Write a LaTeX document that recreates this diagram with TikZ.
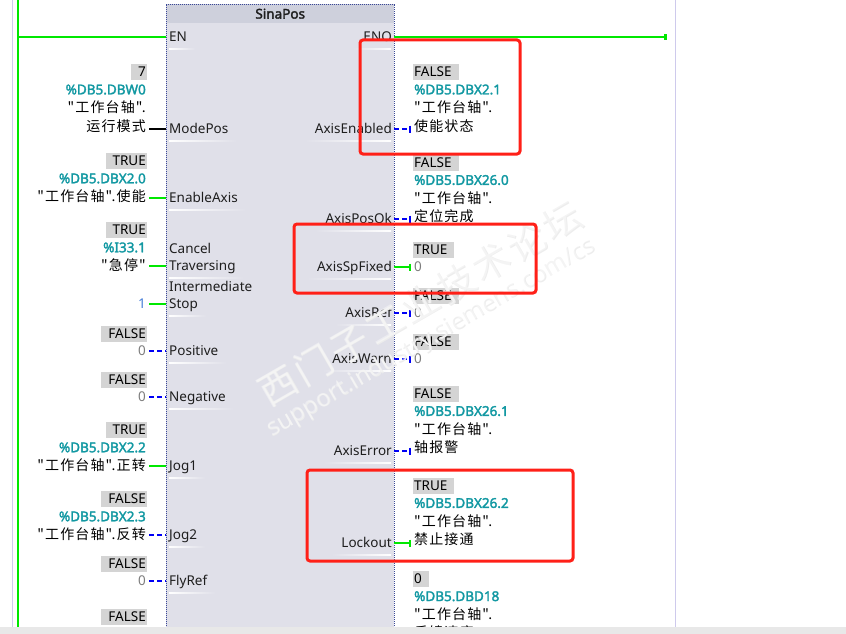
\documentclass[tikz,border=0pt]{standalone}
\usepackage{fontspec}
\setmainfont{Noto Sans}
\newfontfamily\heavy{Noto Sans}[FakeBold=2.2]
\newfontfamily\cjk{Noto Sans CJK SC}[LetterSpace=8]
\usetikzlibrary{arrows.meta,positioning}

\definecolor{rail}{RGB}{0,232,0}
\definecolor{offblue}{RGB}{0,0,245}
\definecolor{addrteal}{RGB}{18,152,162}
\definecolor{valgray}{RGB}{212,212,212}
\definecolor{blockbody}{RGB}{224,224,233}
\definecolor{blocktitle}{RGB}{206,208,220}
\definecolor{blockedge}{RGB}{58,72,150}
\definecolor{guide}{RGB}{206,202,236}
\definecolor{markred}{RGB}{255,32,24}
\definecolor{zerogray}{RGB}{125,125,125}
\definecolor{constblue}{RGB}{70,125,215}
\definecolor{pintext}{RGB}{30,30,30}
\definecolor{footer}{RGB}{232,232,232}

\begin{document}
\fontsize{13.5}{16}\selectfont
\begin{tikzpicture}[x=1pt, y=-1pt,
    block/.style={fill=blockbody, inner sep=0pt, minimum width=228pt, minimum height=640pt},
    headbar/.style={fill=blocktitle, inner sep=0pt, minimum width=227pt, minimum height=19pt, text=pintext, font=\heavy},
    edgeline/.style={blockedge, line width=0.8pt, dash pattern=on 1pt off 1pt},
    pinL/.style={anchor=west, inner sep=0pt, text=pintext, text height=12.6pt, text depth=3pt},
    pinR/.style={anchor=east, inner sep=0pt, text=pintext, text height=12.6pt, text depth=3pt},
    fadeL/.style={draw=none, left color=white, right color=blockbody, to path={(\tikztostart) rectangle (\tikztotarget)}},
    fadeR/.style={draw=none, left color=blockbody, right color=white, to path={(\tikztostart) rectangle (\tikztotarget)}},
    ulL/.style={append after command={([yshift=-3.5pt]\tikzlastnode.south west) edge[fadeL] ([yshift=-4.8pt, xshift=8pt]\tikzlastnode.south east)}},
    ulR/.style={append after command={([yshift=-3.5pt, xshift=-10pt]\tikzlastnode.south west) edge[fadeR] ([yshift=-4.8pt, xshift=-1pt]\tikzlastnode.south east)}},
    txt/.style={inner xsep=1pt, inner ysep=1pt, text height=12.65pt, text depth=3.35pt},
    sym/.style={txt, font=\cjk\fontsize{14}{16}\selectfont},
    addr/.style={txt, text=addrteal, font=\heavy},
    zero/.style={txt, text=zerogray},
    const/.style={txt, text=constblue},
    valL/.style={fill=valgray, inner xsep=1pt, inner ysep=1pt, text height=11.65pt, text depth=2.35pt, execute at begin node=\hspace*{6pt}},
    valR/.style={fill=valgray, inner xsep=1pt, inner ysep=1pt, text height=11.65pt, text depth=2.35pt, execute at end node=\hspace*{6pt}},
    wire/.style={rail, line width=2.5pt},
    wireoff/.style={offblue, line width=2pt, dash pattern=on 5pt off 3pt},
    wireval/.style={black, line width=2.5pt},
    fromval/.style={shorten <=2pt},
    outtick/.style={-{Bar[width=7pt]}, shorten >=2pt},
    redframe/.style={markred, line width=3pt, rounded corners=3pt},
    wmark/.style={rotate=30, inner sep=0pt}
  ]
  \useasboundingbox (0,0) rectangle (846,634);

  % rails
  \coordinate (rail-top) at (18,0);
  \coordinate (rail-bot) at (18,627);
  \coordinate (eno-end) at (667,37);
  \draw[guide] (12,0) -- (12,627);
  \draw[guide] (675,0) -- (675,627);

  % the SinaPos box
  \node[block, anchor=north west] (blk) at (166,4) {};
  \node[headbar, anchor=north] (blk-head) at (blk.north) {SinaPos};
  \draw[edgeline] (blk.south west) rectangle (blk.north east);

  % input pins
  \node[pinL, ulL] (p-en) at (169,37) {EN};
  \node[pinL, ulL] (p-modepos) at (169,129) {ModePos};
  \node[pinL, ulL] (p-enable) at (169,198) {EnableAxis};
  \node[pinL] (p-cancel-1) at (169,249) {Cancel};
  \node[pinL, ulL] (p-cancel) at (169,266) {Traversing};
  \node[pinL] (p-stop-1) at (169,287) {Intermediate};
  \node[pinL, ulL] (p-stop) at (169,304) {Stop};
  \node[pinL, ulL] (p-pos) at (169,351) {Positive};
  \node[pinL, ulL] (p-neg) at (169,397) {Negative};
  \node[pinL, ulL] (p-jog1) at (169,466) {Jog1};
  \node[pinL, ulL] (p-jog2) at (169,535) {Jog2};
  \node[pinL, ulL] (p-flyref) at (169,581) {FlyRef};

  % output pins
  \node[pinR, ulR] (p-eno) at (392,37) {ENO};
  \node[pinR, ulR] (p-enabled) at (392,129) {AxisEnabled};
  \node[pinR, ulR] (p-posok) at (392,219) {AxisPosOk};
  \node[pinR, ulR] (p-spfixed) at (392,267) {AxisSpFixed};
  \node[pinR, ulR] (p-ref) at (392,313) {AxisRef};
  \node[pinR, ulR] (p-warn) at (392,359) {AxisWarn};
  \node[pinR, ulR] (p-error) at (392,451) {AxisError};
  \node[pinR, ulR] (p-lockout) at (392,543) {Lockout};

  % input operands
  \node[sym, anchor=east] (modepos-sym) at (147,126.5) {运行模式};
  \node[sym, above left=0pt and 0pt of modepos-sym.north east] (modepos-db) {"工作台轴".};
  \node[addr, above left=0pt and 0pt of modepos-db.north east] (modepos-addr) {\%DB5.DBW0};
  \node[valL, above left=0pt and 0pt of modepos-addr.north east] (modepos-val) {7};

  \node[sym, anchor=east] (enable-sym) at (147,197) {"工作台轴".使能};
  \node[addr, above left=0pt and 0pt of enable-sym.north east] (enable-addr) {\%DB5.DBX2.0};
  \node[valL, above left=0pt and 0pt of enable-addr.north east] (enable-val) {TRUE};

  \node[sym, anchor=east] (cancel-sym) at (147,266) {"急停"};
  \node[addr, above left=0pt and 0pt of cancel-sym.north east] (cancel-addr) {\%I33.1};
  \node[valL, above left=0pt and 0pt of cancel-addr.north east] (cancel-val) {TRUE};

  \node[const, anchor=east] (stop-sym) at (147,304) {1};

  \node[zero, anchor=east] (pos-sym) at (147,351) {0};
  \node[valL, above left=0pt and 0pt of pos-sym.north east] (pos-val) {FALSE};

  \node[zero, anchor=east] (neg-sym) at (147,397) {0};
  \node[valL, above left=0pt and 0pt of neg-sym.north east] (neg-val) {FALSE};

  \node[sym, anchor=east] (jog1-sym) at (147,466) {"工作台轴".正转};
  \node[addr, above left=0pt and 0pt of jog1-sym.north east] (jog1-addr) {\%DB5.DBX2.2};
  \node[valL, above left=0pt and 0pt of jog1-addr.north east] (jog1-val) {TRUE};

  \node[sym, anchor=east] (jog2-sym) at (147,535) {"工作台轴".反转};
  \node[addr, above left=0pt and 0pt of jog2-sym.north east] (jog2-addr) {\%DB5.DBX2.3};
  \node[valL, above left=0pt and 0pt of jog2-addr.north east] (jog2-val) {FALSE};

  \node[zero, anchor=east] (flyref-sym) at (147,581) {0};
  \node[valL, above left=0pt and 0pt of flyref-sym.north east] (flyref-val) {FALSE};

  \node[valL, anchor=east] (next-val) at (147,617) {FALSE};

  % output operands
  \node[sym, anchor=west] (enabled-sym) at (413,126.5) {使能状态};
  \node[sym, above right=0pt and 0pt of enabled-sym.north west] (enabled-db) {"工作台轴".};
  \node[addr, above right=0pt and 0pt of enabled-db.north west] (enabled-addr) {\%DB5.DBX2.1};
  \node[valR, above right=0pt and 0pt of enabled-addr.north west] (enabled-val) {FALSE};

  \node[sym, anchor=west] (posok-sym) at (413,217) {定位完成};
  \node[sym, above right=0pt and 0pt of posok-sym.north west] (posok-db) {"工作台轴".};
  \node[addr, above right=0pt and 0pt of posok-db.north west] (posok-addr) {\%DB5.DBX26.0};
  \node[valR, above right=0pt and 0pt of posok-addr.north west] (posok-val) {FALSE};

  \node[zero, anchor=west] (spfixed-sym) at (413,267) {0};
  \node[valR, above right=0pt and 0pt of spfixed-sym.north west] (spfixed-val) {TRUE};

  \node[zero, anchor=west] (ref-sym) at (413,313) {0};
  \node[valR, above right=0pt and 0pt of ref-sym.north west] (ref-val) {FALSE};

  \node[zero, anchor=west] (warn-sym) at (413,359) {0};
  \node[valR, above right=0pt and 0pt of warn-sym.north west] (warn-val) {FALSE};

  \node[sym, anchor=west] (error-sym) at (413,448) {轴报警};
  \node[sym, above right=0pt and 0pt of error-sym.north west] (error-db) {"工作台轴".};
  \node[addr, above right=0pt and 0pt of error-db.north west] (error-addr) {\%DB5.DBX26.1};
  \node[valR, above right=0pt and 0pt of error-addr.north west] (error-val) {FALSE};

  \node[sym, anchor=west] (lockout-sym) at (413,540) {禁止接通};
  \node[sym, above right=0pt and 0pt of lockout-sym.north west] (lockout-db) {"工作台轴".};
  \node[addr, above right=0pt and 0pt of lockout-db.north west] (lockout-addr) {\%DB5.DBX26.2};
  \node[valR, above right=0pt and 0pt of lockout-addr.north west] (lockout-val) {TRUE};

  \node[valR, anchor=west] (speed-val) at (413,579) {0};
  \node[addr, below right=0pt and 0pt of speed-val.south west] (speed-addr) {\%DB5.DBD18};
  \node[sym, below right=0pt and 0pt of speed-addr.south west] (speed-db) {"工作台轴".};
  \node[sym, below right=0pt and 0pt of speed-db.south west] (speed-sym) {反馈速度};

  % power flow
  \draw[wire] (rail-top) -- (rail-bot);
  \draw[wire] (p-en -| rail-top) -- (p-en -| blk.west);
  \draw[wire, -{Square[length=3pt, width=6pt]}] (p-eno -| blk.east) -- (p-eno -| eno-end);

  \draw[wireval, fromval] (modepos-sym.east |- p-modepos) -- (p-modepos -| blk.west);
  \draw[wire, fromval] (enable-sym.east |- p-enable) -- (p-enable -| blk.west);
  \draw[wire, fromval] (cancel-sym.east |- p-cancel) -- (p-cancel -| blk.west);
  \draw[wire, fromval] (stop-sym.east |- p-stop) -- (p-stop -| blk.west);
  \draw[wireoff, fromval] (pos-sym.east |- p-pos) -- (p-pos -| blk.west);
  \draw[wireoff, fromval] (neg-sym.east |- p-neg) -- (p-neg -| blk.west);
  \draw[wire, fromval] (jog1-sym.east |- p-jog1) -- (p-jog1 -| blk.west);
  \draw[wireoff, fromval] (jog2-sym.east |- p-jog2) -- (p-jog2 -| blk.west);
  \draw[wireoff, fromval] (flyref-sym.east |- p-flyref) -- (p-flyref -| blk.west);

  \draw[wireoff, outtick] (p-enabled -| blk.east) -- (p-enabled -| enabled-sym.west);
  \draw[wireoff, outtick] (p-posok -| blk.east) -- (p-posok -| posok-sym.west);
  \draw[wire, outtick] (p-spfixed -| blk.east) -- (p-spfixed -| spfixed-sym.west);
  \draw[wireoff, outtick] (p-ref -| blk.east) -- (p-ref -| ref-sym.west);
  \draw[wireoff, outtick] (p-warn -| blk.east) -- (p-warn -| warn-sym.west);
  \draw[wireoff, outtick] (p-error -| blk.east) -- (p-error -| error-sym.west);
  \draw[wire, outtick] (p-lockout -| blk.east) -- (p-lockout -| lockout-sym.west);

  % forum watermark
  \node[wmark, text=black!7, font=\cjk\fontsize{38}{38}\selectfont] (wm-cn-edge) at (420.8,303.8) {西门子工业技术论坛};
  \node[wmark, text=white, opacity=0.4, font=\cjk\fontsize{38}{38}\selectfont] (wm-cn) at (420,303) {西门子工业技术论坛};
  \node[wmark, text=black!7, font=\fontsize{24}{24}\selectfont] (wm-url-edge) at (431.8,338.8) {support.industry.siemens.com/cs};
  \node[wmark, text=white, opacity=0.4, font=\fontsize{24}{24}\selectfont] (wm-url) at (431,338) {support.industry.siemens.com/cs};

  % highlights
  \draw[redframe] (360,40) rectangle (520,154);
  \draw[redframe] (294,224) rectangle (536,293);
  \draw[redframe] (307,470) rectangle (573,561);

  \fill[footer] (0,627) rectangle (846,634);
\end{tikzpicture}
\end{document}
